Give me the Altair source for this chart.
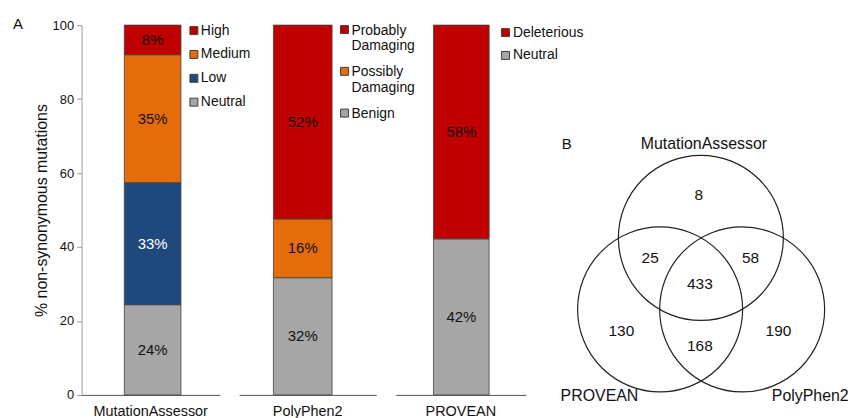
import altair as alt
import pandas as pd

FONT = "Liberation Sans"
TXT = "#111111"

# ---------------- Panel A data ----------------
ma_classes = ["High", "Medium", "Low", "Neutral"]
ma_values = [8.0, 34.6, 33.0, 24.4]
pp_classes = ["Probably Damaging", "Possibly Damaging", "Benign"]
pp_values = [52.4, 15.9, 31.7]
pv_classes = ["Deleterious", "Neutral"]
pv_values = [57.8, 42.2]

RED, ORANGE, BLUE, GRAY = "#C00000", "#E46C0A", "#1F497D", "#A6A6A6"
ma_colors = [RED, ORANGE, BLUE, GRAY]
pp_colors = [RED, ORANGE, GRAY]
pv_colors = [RED, GRAY]

y_ticks = [0, 20, 40, 60, 80, 100]

# ---------------- Panel B data ----------------
venn_sets = ["MutationAssessor", "PROVEAN", "PolyPhen2"]
region_counts = [8, 25, 58, 433, 130, 190, 168]

# Venn layout (diagram geometry, in panel units)
venn_cx = [145, 104, 186.5]
venn_cy = [214, 286, 286]
set_label_x = [148, 43, 255]
set_label_y = [120, 373, 373]
region_x = [143, 94, 195, 144, 65, 223, 144]
region_y = [171, 234, 234, 260, 308, 308, 323]

H = 372
SPACING = 19.5


def bar_panel(tool, classes, values, colors, width, bar_size, x_off,
              show_y, lx, ly, row_pad, multiline, label_offset, letter=None):
    n = len(classes)
    df = pd.DataFrame({
        "tool": [tool] * n,
        "cls": classes,
        "value": values,
        "ord": list(range(n - 1, -1, -1)),
    })
    base = alt.Chart(df).transform_stack(
        stack="value", groupby=["tool"], as_=["y0", "y1"],
        sort=[alt.SortField("ord", order="ascending")]
    )
    if show_y:
        yaxis = alt.Axis(
            title="% non-synonymous mutations", values=y_ticks, grid=False,
            domainColor="#999999", tickColor="#999999", tickSize=5,
            labelFont=FONT, labelFontSize=13, labelColor=TXT, labelPadding=3,
            titleFont=FONT, titleFontSize=16, titleFontWeight="normal",
            titleColor=TXT, titlePadding=3,
        )
    else:
        yaxis = None
    xaxis = alt.Axis(
        title=None, labelAngle=0, ticks=False, domainColor="#555555",
        labelFont=FONT, labelFontSize=14.5, labelColor=TXT, labelPadding=10,
    )
    common = dict(
        title=None, orient="none", legendX=lx, legendY=ly, padding=0,
        symbolSize=64, symbolStrokeColor="#404040", symbolStrokeWidth=1,
        labelFont=FONT, labelFontSize=14, labelColor=TXT,
        labelOffset=label_offset, rowPadding=row_pad, labelLimit=300,
    )
    if multiline:
        legend = alt.Legend(
            symbolType="M-1,0.5L1,0.5L1,2.5L-1,2.5Z", labelBaseline="top",
            labelExpr="split(datum.label, ' ')", **common)
    else:
        legend = alt.Legend(symbolType="square", **common)
    x_enc = alt.X("tool:N", axis=xaxis)
    bars = base.mark_bar(size=bar_size, xOffset=x_off, stroke="#404040",
                         strokeWidth=0.8).encode(
        x=x_enc,
        y=alt.Y("y0:Q", scale=alt.Scale(domain=[0, 100], nice=False), axis=yaxis),
        y2="y1:Q",
        color=alt.Color("cls:N", scale=alt.Scale(domain=classes, range=colors),
                        legend=legend),
        order=alt.Order("ord:Q"),
    )
    labels = base.transform_calculate(
        mid="(datum.y0 + datum.y1) / 2",
        lab="format(datum.value, '.0f') + '%'",
    ).mark_text(font=FONT, fontSize=15, xOffset=x_off).encode(
        x=x_enc,
        y=alt.Y("mid:Q"),
        text="lab:N",
        color=alt.condition("datum.cls == 'Low'", alt.value("white"), alt.value(TXT)),
    )
    layers = [bars, labels]
    if letter is not None:
        lt = alt.Chart(pd.DataFrame({"t": [letter]})).mark_text(
            font=FONT, fontSize=15, align="left", baseline="middle", color=TXT
        ).encode(text="t:N", x=alt.value(-69), y=alt.value(-1))
        layers.append(lt)
    return alt.layer(*layers).properties(width=width, height=H)


# panel plot areas: p1 82..221, p2 240.5..378.5, p3 398..529, venn from 548.5
p1 = bar_panel("MutationAssessor", ma_classes, ma_values, ma_colors, 139, 57, 2,
               True, 106, -1.5, 10, False, 0, letter="A")
p2 = bar_panel("PolyPhen2", pp_classes, pp_values, pp_colors, 138, 59, -5,
               False, 99, -8.5, 5, True, 0)
p3 = bar_panel("PROVEAN", pv_classes, pv_values, pv_colors, 131, 56, 0.5,
               False, 103.5, 0.5, 9, False, 0.5)

# ---------------- Venn ----------------
VW = 300
vx = alt.Scale(domain=[-11.5, VW - 11.5], nice=False, zero=False)
vy = alt.Scale(domain=[0, H], nice=False, zero=False, reverse=True)

circ_df = pd.DataFrame({"set": venn_sets, "cx": venn_cx, "cy": venn_cy})
setlab_df = pd.DataFrame({"set": venn_sets, "lx": set_label_x, "ly": set_label_y})
reg_df = pd.DataFrame({"n": region_counts, "rx": region_x, "ry": region_y})

circles = alt.Chart(circ_df).mark_point(
    shape="circle", filled=False, size=166 * 166, color="#222222",
    strokeWidth=1.2, opacity=1
).encode(x=alt.X("cx:Q", scale=vx, axis=None), y=alt.Y("cy:Q", scale=vy, axis=None))

set_text = alt.Chart(setlab_df).mark_text(font=FONT, fontSize=16, color=TXT).encode(
    x=alt.X("lx:Q", scale=vx, axis=None), y=alt.Y("ly:Q", scale=vy, axis=None),
    text="set:N")

reg_text = alt.Chart(reg_df).mark_text(font=FONT, fontSize=15.5, color=TXT).encode(
    x=alt.X("rx:Q", scale=vx, axis=None), y=alt.Y("ry:Q", scale=vy, axis=None),
    text="n:N")

b_lab = alt.Chart(pd.DataFrame({"t": ["B"]})).mark_text(
    font=FONT, fontSize=15, align="left", baseline="middle", color=TXT
).encode(text="t:N", x=alt.value(16.5), y=alt.value(120))

venn = alt.layer(circles, set_text, reg_text, b_lab).properties(width=VW, height=H)

chart = alt.HConcatChart(
    hconcat=[p1, p2, p3, venn], spacing=SPACING, bounds="flush"
).resolve_scale(color="independent").configure_view(stroke=None).properties(
    padding={"left": 5, "top": 7, "right": 0, "bottom": 0}
)

chart.save("out.html", embed_options={"renderer": "svg", "actions": False})
